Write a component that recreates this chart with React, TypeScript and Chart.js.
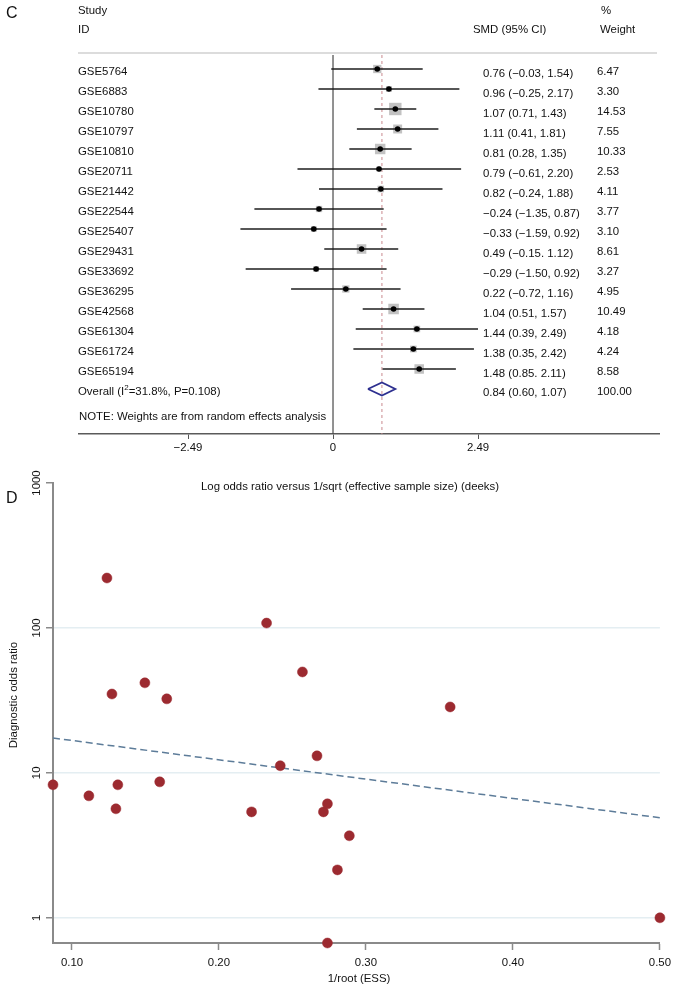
import React, { useEffect, useRef } from "react";
import { Chart, registerables } from "chart.js";
Chart.register(...registerables);

// ---------- Panel C: forest plot data ----------
const studyIds = ["GSE5764","GSE6883","GSE10780","GSE10797","GSE10810","GSE20711","GSE21442","GSE22544","GSE25407","GSE29431","GSE33692","GSE36295","GSE42568","GSE61304","GSE61724","GSE65194"];
const smdValues = [0.76,0.96,1.07,1.11,0.81,0.79,0.82,-0.24,-0.33,0.49,-0.29,0.22,1.04,1.44,1.38,1.48];
const ciLow = [-0.03,-0.25,0.71,0.41,0.28,-0.61,-0.24,-1.35,-1.59,-0.15,-1.50,-0.72,0.51,0.39,0.35,0.85];
const ciHigh = [1.54,2.17,1.43,1.81,1.35,2.20,1.88,0.87,0.92,1.12,0.92,1.16,1.57,2.49,2.42,2.11];
const weights = [6.47,3.30,14.53,7.55,10.33,2.53,4.11,3.77,3.10,8.61,3.27,4.95,10.49,4.18,4.24,8.58];
const ciLabels = ["0.76 (−0.03, 1.54)","0.96 (−0.25, 2.17)","1.07 (0.71, 1.43)","1.11 (0.41, 1.81)","0.81 (0.28, 1.35)","0.79 (−0.61, 2.20)","0.82 (−0.24, 1.88)","−0.24 (−1.35, 0.87)","−0.33 (−1.59, 0.92)","0.49 (−0.15. 1.12)","−0.29 (−1.50, 0.92)","0.22 (−0.72, 1.16)","1.04 (0.51, 1.57)","1.44 (0.39, 2.49)","1.38 (0.35, 2.42)","1.48 (0.85. 2.11)"];
const weightLabels = ["6.47","3.30","14.53","7.55","10.33","2.53","4.11","3.77","3.10","8.61","3.27","4.95","10.49","4.18","4.24","8.58"];
const overallSmd = 0.84;
const overallLow = 0.60;
const overallHigh = 1.07;
const overallCiLabel = "0.84 (0.60, 1.07)";
const overallWeightLabel = "100.00";
const forestTicks = [-2.49, 0, 2.49];

// ---------- Panel D: Deeks funnel data ----------
const invRootEss = [0.1238,0.2324,0.2568,0.1272,0.1496,0.1645,0.3573,0.0871,0.1115,0.1299,0.1312,0.1597,0.2222,0.2417,0.2667,0.2711,0.2738,0.2738,0.2806,0.2887,0.50];
const diagOdds = [221,108,49.7,35,41.8,32.4,28.5,8.27,6.94,5.65,8.27,8.67,5.38,11.2,13.1,5.38,6.11,0.67,2.14,3.68,1.0];
const fitX = [0.0871, 0.50];
const fitY = [17.4, 4.9];
const deeksXTicks = [0.1, 0.2, 0.3, 0.4, 0.5];
const deeksYTicks = [1, 10, 100, 1000];

const FONT = '"Liberation Sans", Arial, Helvetica, sans-serif';
const FS = 11.4;
const fmtNum = (v: number) => (v === 0 ? "0" : v < 0 ? "−" + Math.abs(v).toFixed(2) : v.toFixed(2));

const forestTextPlugin = {
  id: "forestText",
  afterDraw(chart: any) {
    const ctx = chart.ctx as CanvasRenderingContext2D;
    const ys = chart.scales.y;
    ctx.save();
    // header rule
    ctx.strokeStyle = "#dcdcdc";
    ctx.lineWidth = 2;
    ctx.beginPath();
    ctx.moveTo(78, 53);
    ctx.lineTo(657, 53);
    ctx.stroke();

    ctx.fillStyle = "#111";
    ctx.textBaseline = "middle";
    ctx.textAlign = "left";
    ctx.font = `16px ${FONT}`;
    ctx.fillText("C", 6, 14);
    ctx.font = `${FS}px ${FONT}`;
    ctx.fillText("Study", 78, 11);
    ctx.fillText("ID", 78, 30);
    ctx.fillText("SMD (95% CI)", 473, 30);
    ctx.fillText("%", 601, 11);
    ctx.fillText("Weight", 600, 30);

    studyIds.forEach((id, i) => {
      const py = ys.getPixelForValue(i);
      ctx.fillText(id, 78, py + 3);
      ctx.fillText(ciLabels[i], 483, py + 5);
      ctx.fillText(weightLabels[i], 597, py + 3);
    });
    const oy = ys.getPixelForValue(studyIds.length) + 3;
    const p1 = "Overall (I";
    ctx.fillText(p1, 78, oy);
    let w = ctx.measureText(p1).width;
    ctx.font = `8px ${FONT}`;
    ctx.fillText("2", 78 + w, oy - 4);
    w += ctx.measureText("2").width;
    ctx.font = `${FS}px ${FONT}`;
    ctx.fillText("=31.8%, P=0.108)", 78 + w, oy);
    ctx.fillText(overallCiLabel, 483, oy + 1);
    ctx.fillText(overallWeightLabel, 597, oy);
    ctx.fillText("NOTE: Weights are from random effects analysis", 79, 417);
    ctx.restore();
  },
};

const deeksTextPlugin = {
  id: "deeksText",
  afterDraw(chart: any) {
    const ctx = chart.ctx as CanvasRenderingContext2D;
    const ys = chart.scales.y;
    ctx.save();
    ctx.fillStyle = "#111";
    ctx.textBaseline = "middle";
    ctx.textAlign = "left";
    ctx.font = `16px ${FONT}`;
    ctx.fillText("D", 6, 39);
    ctx.font = `${FS}px ${FONT}`;
    ctx.textAlign = "center";
    ctx.fillText("Log odds ratio versus 1/sqrt (effective sample size) (deeks)", 350, 27);
    ctx.fillText("1/root (ESS)", 359, 519);
    deeksYTicks.forEach((v) => {
      const py = ys.getPixelForValue(v);
      ctx.save();
      ctx.translate(37, py);
      ctx.rotate(-Math.PI / 2);
      ctx.fillText(String(v), 0, 0);
      ctx.restore();
    });
    ctx.save();
    ctx.translate(14, 235);
    ctx.rotate(-Math.PI / 2);
    ctx.fillText("Diagnostic odds ratio", 0, 0);
    ctx.restore();
    ctx.restore();
  },
};

function ForestChart() {
  const ref = useRef<HTMLCanvasElement>(null);
  useEffect(() => {
    if (!ref.current) return;
    const n = studyIds.length;
    const ciSets = studyIds.map((_, i) => ({
      type: "scatter" as const,
      data: [{ x: ciLow[i], y: i }, { x: ciHigh[i], y: i }],
      showLine: true,
      borderColor: "#1e1e1e",
      borderWidth: 1.6,
      pointRadius: 0,
      clip: false as any,
    }));
    const chart = new Chart(ref.current, {
      type: "scatter",
      data: {
        datasets: [
          {
            data: smdValues.map((v, i) => ({ x: v, y: i })),
            pointStyle: "circle",
            pointRadius: 2.8,
            pointBackgroundColor: "#000",
            pointBorderWidth: 0,
          },
          ...ciSets,
          {
            data: smdValues.map((v, i) => ({ x: v, y: i })),
            pointStyle: "rect",
            pointRadius: weights.map((w) => 2.3 * Math.sqrt(w)),
            pointBackgroundColor: "#c2c2c2",
            pointBorderWidth: 0,
          },
          {
            data: [
              { x: overallLow, y: n },
              { x: overallSmd, y: n - 0.33 },
              { x: overallHigh, y: n },
              { x: overallSmd, y: n + 0.33 },
              { x: overallLow, y: n },
            ],
            showLine: true,
            borderColor: "#2d2f8f",
            borderWidth: 1.8,
            pointRadius: 0,
            tension: 0,
          },
          {
            data: [{ x: 0, y: -0.7 }, { x: 0, y: 18.25 }],
            showLine: true,
            borderColor: "#4a4a4a",
            borderWidth: 1.2,
            pointRadius: 0,
          },
          {
            data: [{ x: overallSmd, y: -0.7 }, { x: overallSmd, y: 18.25 }],
            showLine: true,
            borderColor: "#c98a8e",
            borderWidth: 1,
            borderDash: [3, 3],
            pointRadius: 0,
          },
        ] as any,
      },
      options: {
        animation: false,
        responsive: false,
        maintainAspectRatio: false,
        layout: { padding: { left: 79, right: 18, top: 53, bottom: 0 } },
        plugins: { legend: { display: false }, tooltip: { enabled: false } },
        scales: {
          x: {
            type: "linear",
            min: -4.362,
            max: 5.598,
            afterBuildTicks: (axis: any) => {
              axis.ticks = forestTicks.map((v) => ({ value: v }));
            },
            afterFit: (axis: any) => {
              axis.height = 26;
            },
            ticks: {
              callback: (v: any) => fmtNum(Number(v)),
              color: "#111",
              font: { family: FONT, size: FS },
              padding: 2,
              maxRotation: 0,
              autoSkip: false,
            },
            grid: { drawOnChartArea: false, drawTicks: true, tickLength: 5, tickColor: "#555" },
            border: { display: true, color: "#5a5a5a", width: 1.5 },
          },
          y: {
            type: "linear",
            display: false,
            reverse: true,
            min: -0.8,
            max: 18.25,
          },
        },
      } as any,
      plugins: [forestTextPlugin],
    });
    return () => chart.destroy();
  }, []);
  return <canvas ref={ref} width={677} height={460} style={{ display: "block", position: "absolute", left: 0, top: 0 }} />;
}

function DeeksChart() {
  const ref = useRef<HTMLCanvasElement>(null);
  useEffect(() => {
    if (!ref.current) return;
    const chart = new Chart(ref.current, {
      type: "scatter",
      data: {
        datasets: [
          {
            data: invRootEss.map((x, i) => ({ x, y: diagOdds[i] })),
            pointRadius: 5,
            pointBackgroundColor: "#9c2a30",
            pointBorderColor: "#9c2a30",
            pointBorderWidth: 0.5,
            clip: false as any,
          },
          {
            data: fitX.map((x, i) => ({ x, y: fitY[i] })),
            showLine: true,
            borderColor: "#5d7c99",
            borderWidth: 1.5,
            borderDash: [7, 4],
            pointRadius: 0,
          },
        ] as any,
      },
      options: {
        animation: false,
        responsive: false,
        maintainAspectRatio: false,
        layout: { padding: { left: 0, right: 16, top: 23, bottom: 0 } },
        plugins: { legend: { display: false }, tooltip: { enabled: false } },
        scales: {
          x: {
            type: "linear",
            min: 0.0871,
            max: 0.5,
            afterBuildTicks: (axis: any) => {
              axis.ticks = deeksXTicks.map((v) => ({ value: v }));
            },
            afterFit: (axis: any) => {
              axis.height = 49;
            },
            ticks: {
              callback: (v: any) => Number(v).toFixed(2),
              color: "#111",
              font: { family: FONT, size: FS },
              padding: 6,
              maxRotation: 0,
              autoSkip: false,
            },
            grid: { drawOnChartArea: false, drawTicks: true, tickLength: 7, tickColor: "#8a8a8a", tickWidth: 1.5 },
            border: { display: true, color: "#8a8a8a", width: 2 },
          },
          y: {
            type: "logarithmic",
            min: 0.67,
            max: 1000,
            afterBuildTicks: (axis: any) => {
              axis.ticks = deeksYTicks.map((v) => ({ value: v }));
            },
            afterFit: (axis: any) => {
              axis.width = 53;
            },
            ticks: { display: false },
            grid: {
              drawOnChartArea: true,
              drawTicks: true,
              tickLength: 7,
              tickColor: "#8a8a8a",
              tickWidth: 1.5,
              lineWidth: 1.5,
              color: (c: any) => (c.tick && c.tick.value === 1000 ? "rgba(0,0,0,0)" : "#e4eef2"),
            },
            border: { display: true, color: "#8a8a8a", width: 2 },
          },
        },
      } as any,
      plugins: [deeksTextPlugin],
    });
    return () => chart.destroy();
  }, []);
  return <canvas ref={ref} width={677} height={532} style={{ display: "block", position: "absolute", left: 0, top: 460 }} />;
}

export default function App() {
  return (
    <div style={{ position: "absolute", left: 0, top: 0, width: 677, height: 992, background: "#fff", overflow: "hidden" }}>
      <ForestChart />
      <DeeksChart />
    </div>
  );
}
